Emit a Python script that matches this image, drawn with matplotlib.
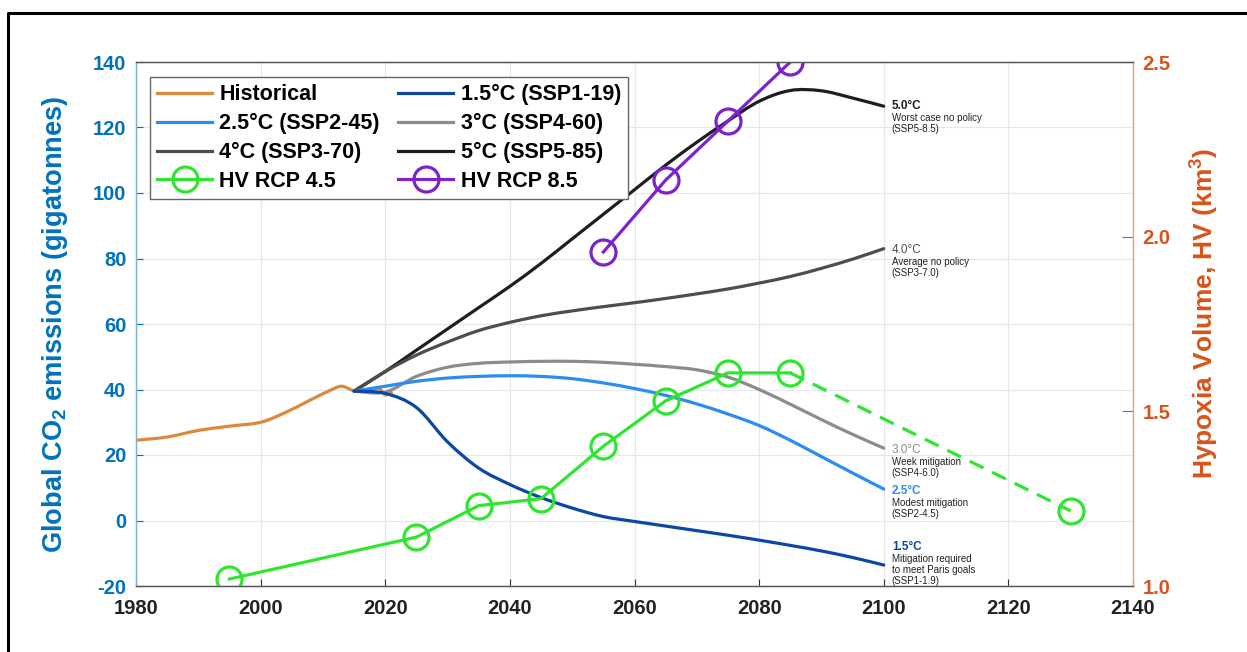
import numpy as np
import matplotlib
matplotlib.use('Agg')
import matplotlib.pyplot as plt
from matplotlib.lines import Line2D
from matplotlib.path import Path
from matplotlib.patches import PathPatch

plt.rcParams['font.family'] = ['Liberation Sans', 'DejaVu Sans']
plt.rcParams['font.weight'] = 'bold'
plt.rcParams['mathtext.fontset'] = 'custom'
plt.rcParams['mathtext.rm'] = 'Liberation Sans:bold'
plt.rcParams['mathtext.bf'] = 'Liberation Sans:bold'
plt.rcParams['mathtext.it'] = 'Liberation Sans:bold'
plt.rcParams['lines.scale_dashes'] = False
plt.rcParams['axes.unicode_minus'] = False

# emissions, Gt CO2
hist_years = [1980, 1985, 1990, 1995, 2000, 2004, 2008, 2011, 2013, 2015, 2017, 2019, 2020, 2021]
hist_vals = [24.5, 25.5, 27.5, 28.8, 30.0, 33.0, 36.8, 39.6, 41.0, 39.6, 39.8, 40.2, 38.4, 39.0]

scen_years = [2015, 2020, 2025, 2030, 2035, 2040, 2045, 2050, 2055, 2060, 2065, 2070, 2075, 2080, 2085, 2090, 2095, 2100]
ssp119 = [39.5, 38.8, 34.5, 24.0, 16.0, 11.0, 7.0, 3.8, 1.2, -0.3, -1.7, -3.1, -4.5, -6.0, -7.6, -9.3, -11.3, -13.6]
ssp245 = [39.5, 41.0, 42.5, 43.5, 44.0, 44.2, 44.0, 43.3, 42.0, 40.3, 38.2, 35.6, 32.5, 29.0, 24.5, 19.5, 14.5, 9.6]
ssp460 = [39.5, 39.2, 44.0, 46.8, 48.0, 48.4, 48.6, 48.6, 48.3, 47.7, 47.0, 46.0, 43.8, 40.0, 35.5, 30.8, 26.3, 22.1]
ssp370 = [39.5, 45.5, 50.5, 54.5, 58.0, 60.5, 62.5, 64.0, 65.3, 66.5, 67.8, 69.2, 70.7, 72.5, 74.5, 77.0, 79.8, 83.0]
ssp585 = [39.5, 45.5, 52.0, 58.5, 65.0, 71.5, 78.5, 86.0, 93.5, 101.0, 108.5, 115.5, 122.0, 128.0, 131.3, 131.2, 129.0, 126.5]

# hypoxia volume, km^3
hv45_years = [1995, 2025, 2035, 2045, 2055, 2065, 2075, 2085, 2130]
hv45_vals = [1.02, 1.14, 1.23, 1.25, 1.40, 1.53, 1.61, 1.61, 1.215]
hv85_years = [2055, 2065, 2075, 2085]
hv85_vals = [1.956, 2.162, 2.331, 2.5]

c_hist = '#dc8a3a'
c_119 = '#0b47a6'
c_245 = '#2b8cf2'
c_460 = '#8c8c8c'
c_370 = '#4d4d4d'
c_585 = '#1e1e1e'
c_hv45 = '#2ee62e'
c_hv85 = '#7d22cc'
c_left = '#0072bd'
c_right = '#d95319'


def smooth_line(ax, xs, ys, color, lw):
    # cubic bezier through every point (catmull-rom tangents)
    pts = np.column_stack([xs, ys]).astype(float)
    verts = [pts[0]]
    codes = [Path.MOVETO]
    n = len(pts)
    for i in range(n - 1):
        p0 = pts[i - 1] if i > 0 else pts[i]
        p1 = pts[i]
        p2 = pts[i + 1]
        p3 = pts[i + 2] if i + 2 < n else pts[i + 1]
        verts += [p1 + (p2 - p0) / 6, p2 - (p3 - p1) / 6, p2]
        codes += [Path.CURVE4] * 3
    ax.add_patch(PathPatch(Path(verts, codes), fill=False, edgecolor=color, lw=lw,
                           capstyle='round', joinstyle='round'))
    return Line2D([], [], color=color, lw=lw)


fig = plt.figure(figsize=(12.47, 6.52), dpi=100)
ax = fig.add_axes([136 / 1247, 66 / 652, 997 / 1247, 524 / 652])
ax2 = ax.twinx()

lw = 2.3
h_hist = smooth_line(ax, hist_years, hist_vals, c_hist, lw)
h_585 = smooth_line(ax, scen_years, ssp585, c_585, lw)
h_370 = smooth_line(ax, scen_years, ssp370, c_370, lw)
h_460 = smooth_line(ax, scen_years, ssp460, c_460, lw)
h_245 = smooth_line(ax, scen_years, ssp245, c_245, lw)
h_119 = smooth_line(ax, scen_years, ssp119, c_119, lw)

ax.set_xlim(1980, 2140)
ax.set_ylim(-20, 140)
ax.set_xticks(np.arange(1980, 2141, 20))
ax.set_yticks(np.arange(-20, 141, 20))
ax.grid(True, color='#e1e8ee', lw=0.9)
ax.set_axisbelow(True)
ax.tick_params(axis='y', direction='in', colors=c_left, labelsize=14.5, pad=7, length=5)
ax.tick_params(axis='x', direction='in', colors='#333333', labelcolor='#222222', labelsize=14.5, pad=9, length=5)
for lab in ax.get_xticklabels() + ax.get_yticklabels():
    lab.set_fontweight('bold')
ax.set_ylabel('Global CO$_\\mathbf{2}$ emissions (gigatonnes)', color=c_left, fontsize=19.6, fontweight='bold')
ax.yaxis.set_label_coords(-0.066, 0.5)

ax2.set_ylim(1.0, 2.5)
ax2.set_yticks([1.0, 1.5, 2.0, 2.5])
ax2.set_yticklabels(['1.0', '1.5', '2.0', '2.5'])
ax2.tick_params(axis='y', direction='in', colors=c_right, labelsize=14.5, pad=7, length=8)
for lab in ax2.get_yticklabels():
    lab.set_fontweight('bold')
ax2.set_ylabel('Hypoxia Volume, HV (km$^\\mathbf{3}$)', color=c_right, fontsize=19, fontweight='bold')
ax2.yaxis.set_label_coords(1.056, 0.52)

for a in (ax, ax2):
    a.spines['top'].set_color('#555555')
    a.spines['bottom'].set_color('#555555')
    a.spines['left'].set_color('#7fb0d6')
    a.spines['right'].set_color('#f0a07a')
    for s in a.spines.values():
        s.set_linewidth(0.9)

ms = 18
mew = 2.3
h_hv45, = ax2.plot(hv45_years[:-1], hv45_vals[:-1], color=c_hv45, lw=lw, marker='o',
                   ms=ms, mfc='none', mew=mew)
ax2.plot(hv45_years[-2:], hv45_vals[-2:], color=c_hv45, lw=lw, ls=(0, (11, 7)))
ax2.plot(hv45_years[-1:], hv45_vals[-1:], color=c_hv45, lw=0, marker='o', ms=ms, mfc='none', mew=mew)
h_hv85, = ax2.plot(hv85_years, hv85_vals, color=c_hv85, lw=lw, marker='o',
                   ms=ms, mfc='none', mew=mew)

# scenario notes at the end of each pathway
notes = [
    (126.5, '5.0°C', 'Worst case no policy\n(SSP5-8.5)', c_585, 'bold'),
    (82.5, '4.0°C', 'Average no policy\n(SSP3-7.0)', c_370, 'normal'),
    (21.5, '3.0°C', 'Week mitigation\n(SSP4-6.0)', c_460, 'normal'),
    (9.0, '2.5°C', 'Modest mitigation\n(SSP2-4.5)', c_245, 'bold'),
    (-8.2, '1.5°C', 'Mitigation required\nto meet Paris goals\n(SSP1-1.9)', c_119, 'bold'),
]
for y, head, body, col, wt in notes:
    ax.text(2101.3, y, head, color=col, fontsize=8.5, fontweight=wt, va='center', ha='left')
    ax.text(2101.3, y - 2.0, body, color='#222222', fontsize=7, fontweight='normal',
            va='top', ha='left', linespacing=1.15)

handles = [h_hist, h_245, h_370, h_hv45, h_119, h_460, h_585, h_hv85]
labels = ['Historical', '2.5°C (SSP2-45)', '4°C (SSP3-70)', 'HV RCP 4.5',
          '1.5°C (SSP1-19)', '3°C (SSP4-60)', '5°C (SSP5-85)', 'HV RCP 8.5']
leg = ax2.legend(handles, labels, ncol=2, loc='upper left', bbox_to_anchor=(0.014, 0.971),
                 borderaxespad=0, fontsize=15.5, handlelength=2.55, handletextpad=0.35,
                 columnspacing=0.85, labelspacing=0.36, borderpad=0.33, fancybox=False,
                 edgecolor='#666666', framealpha=1)
leg.get_frame().set_linewidth(1.0)
for t in leg.get_texts():
    t.set_fontweight('bold')
for lh in leg.get_lines():
    if lh.get_marker() == 'o':
        lh.set_markersize(18)

# outer frame
fig.add_artist(Line2D([8 / 1247, 8 / 1247, 1.01], [-0.01, 1 - 13 / 652, 1 - 13 / 652],
                      transform=fig.transFigure, color='black', lw=2.2))

fig.savefig('out.png', dpi=100)
